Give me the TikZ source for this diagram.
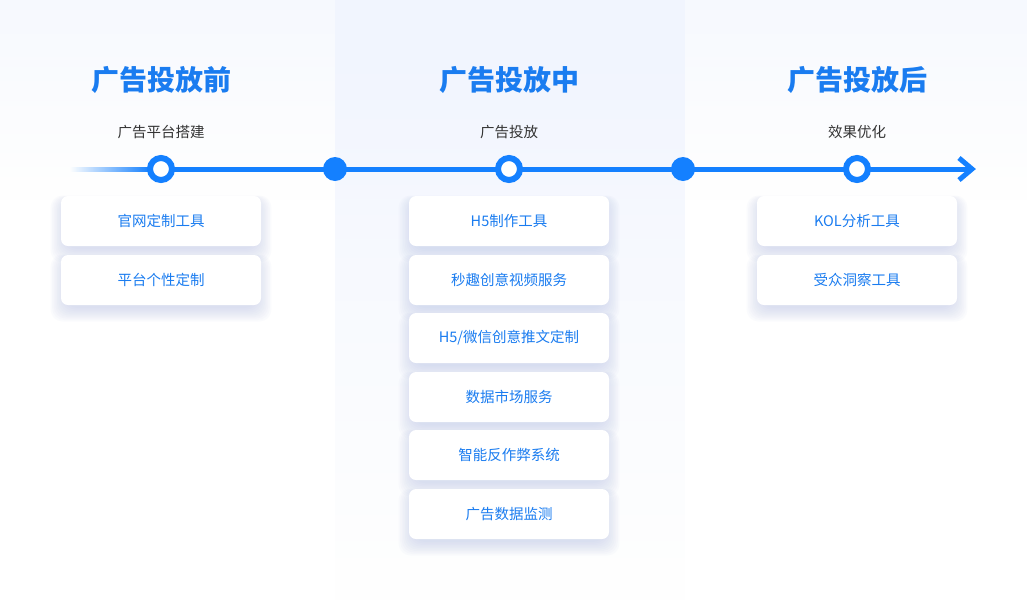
\documentclass[tikz,border=0pt]{standalone}
\usepackage{fontspec}
\newfontfamily\cjk{Noto Sans CJK SC}
\usetikzlibrary{fadings}
\definecolor{mainblue}{HTML}{1480FF}
\definecolor{textblue}{HTML}{1A7CF0}
\definecolor{darktext}{HTML}{333333}
\definecolor{colbg}{HTML}{F1F5FE}
\definecolor{shadowc}{HTML}{B4BFE4}
\tikzfading[name=fadeleft, left color=transparent!100, right color=transparent!0]
\tikzfading[name=fadevert, top color=transparent!0, bottom color=transparent!100]
\tikzfading[name=fadecol, top color=transparent!0, middle color=transparent!20, bottom color=transparent!100]
\tikzset{
  title/.style={font=\cjk\bfseries\fontsize{28}{31}\selectfont, text=textblue},
  subtitle/.style={font=\cjk\fontsize{14.5}{16}\selectfont, text=darktext},
  card/.style={rounded corners=7pt, fill=white, minimum width=200pt, minimum height=50pt, inner sep=0pt,
    font=\cjk\fontsize{14.5}{16}\selectfont, text=textblue},
  hollow/.style={circle, draw=mainblue, line width=6pt, fill=white, minimum size=22pt, inner sep=0pt},
  solid/.style={circle, fill=mainblue, minimum size=24pt, inner sep=0pt},
  tl/.style={draw=mainblue, line width=5pt},
}
\newcommand{\cardshadow}[2]{%
  \foreach \k in {0,...,9}{
    \fill[shadowc, opacity=0.055, rounded corners=12pt]
      ({#1-96-\k*1.6},{#2-25+4-\k*0.5}) rectangle ({#1+96+\k*1.6},{#2+25+3+\k*1.5});
  }%
}
\begin{document}
\begin{tikzpicture}[x=1pt,y=-1pt]
\useasboundingbox (0,0) rectangle (1028,603);
\fill[white] (0,0) rectangle (1028,603);
% faint top tint
\fill[colbg, path fading=fadevert, opacity=0.6] (0,0) rectangle (1028,200);
% middle column background
\fill[colbg, path fading=fadecol] (335,0) rectangle (685,600);

% titles
\node[title] (t1) at (161,80) {广告投放前};
\node[title] (t2) at (509,80) {广告投放中};
\node[title] (t3) at (857,80) {广告投放后};
\node[subtitle] (s1) at (161,132) {广告平台搭建};
\node[subtitle] (s2) at (509,132) {广告投放};
\node[subtitle] (s3) at (857,132) {效果优化};

% timeline
\coordinate (start) at (70,169);
\coordinate (fadeend) at (150,169);
\coordinate (tip) at (972,169);
\fill[mainblue, path fading=fadeleft] (70,166.5) rectangle (150,171.5);
\draw[tl] (fadeend) -- (969,169);
\draw[tl, line cap=butt, line join=miter] (959,158) -- (tip) -- (959,180);

\node[hollow] (c1) at (161,169) {};
\node[solid] (d1) at (335,169) {};
\node[hollow] (c2) at (509,169) {};
\node[solid] (d2) at (683,169) {};
\node[hollow] (c3) at (857,169) {};

% shadows
\foreach \x/\y in {161/221,161/280,509/221,509/280,509/338,509/397,509/455,509/514,857/221,857/280}{
  \cardshadow{\x}{\y}
}

% cards
\node[card] (a1) at (161,221) {官网定制工具};
\node[card] (a2) at (161,280) {平台个性定制};
\node[card] (b1) at (509,221) {H5制作工具};
\node[card] (b2) at (509,280) {秒趣创意视频服务};
\node[card] (b3) at (509,338) {H5/微信创意推文定制};
\node[card] (b4) at (509,397) {数据市场服务};
\node[card] (b5) at (509,455) {智能反作弊系统};
\node[card] (b6) at (509,514) {广告数据监测};
\node[card] (e1) at (857,221) {KOL分析工具};
\node[card] (e2) at (857,280) {受众洞察工具};
\end{tikzpicture}
\end{document}
